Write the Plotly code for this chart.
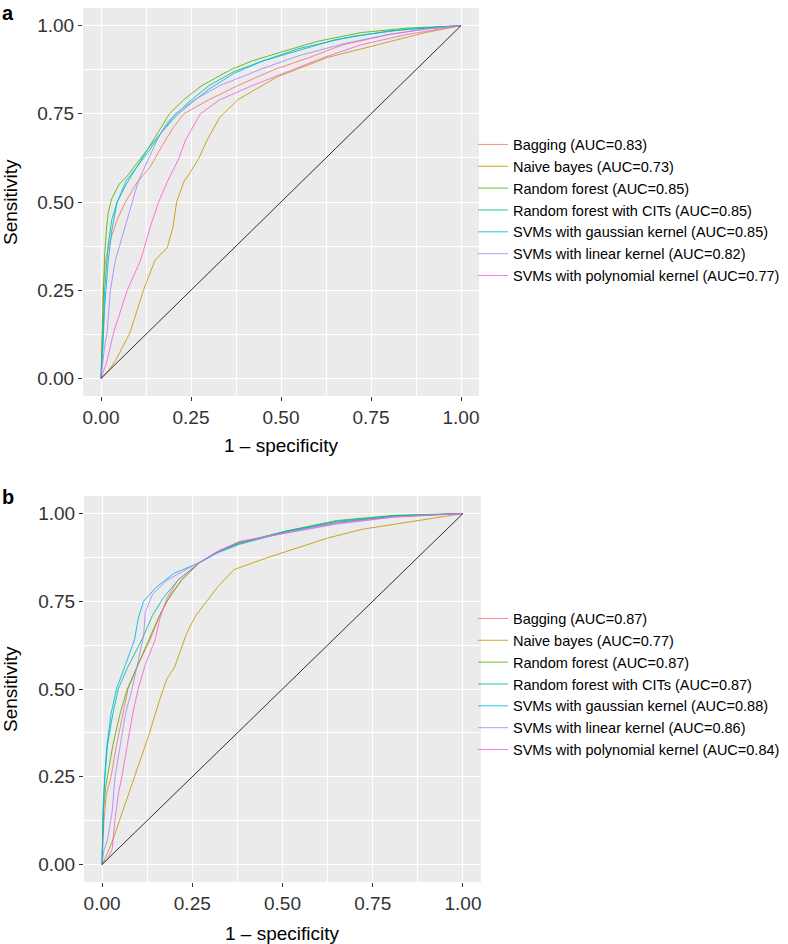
import plotly.graph_objects as go

# model names, legend order and colours (ggplot default hue palette)
models = ['Bagging', 'Naive bayes', 'Random forest', 'Random forest with CITs',
          'SVMs with gaussian kernel', 'SVMs with linear kernel', 'SVMs with polynomial kernel']
colors = ['#F8766D', '#C49A00', '#53B400', '#00C094', '#00B6EB', '#A58AFF', '#FB61D7']
auc_a = [0.83, 0.73, 0.85, 0.85, 0.85, 0.82, 0.77]
auc_b = [0.87, 0.77, 0.87, 0.87, 0.88, 0.86, 0.84]
ticks = [0.0, 0.25, 0.5, 0.75, 1.0]

# ---- panel a : ROC curves (1 - specificity, sensitivity) ----
a_bag_x = [0, 0.003, 0.006, 0.012, 0.025, 0.045, 0.068, 0.1, 0.137, 0.17, 0.2, 0.23, 0.3, 0.38, 0.48, 0.58, 0.67, 0.8, 0.9, 1]
a_bag_y = [0, 0.15, 0.25, 0.33, 0.39, 0.45, 0.5, 0.555, 0.6, 0.66, 0.71, 0.75, 0.79, 0.83, 0.875, 0.91, 0.945, 0.975, 0.99, 1]
a_nb_x = [0, 0.02, 0.04, 0.08, 0.118, 0.15, 0.184, 0.2, 0.21, 0.23, 0.245, 0.27, 0.295, 0.33, 0.38, 0.49, 0.63, 0.78, 0.9, 1]
a_nb_y = [0, 0.02, 0.05, 0.128, 0.25, 0.335, 0.37, 0.43, 0.5, 0.557, 0.58, 0.62, 0.676, 0.74, 0.79, 0.855, 0.91, 0.95, 0.98, 1]
a_rf_x = [0, 0.005, 0.01, 0.015, 0.02, 0.03, 0.05, 0.07, 0.1, 0.13, 0.16, 0.19, 0.23, 0.28, 0.36, 0.42, 0.5, 0.6, 0.72, 0.85, 1]
a_rf_y = [0, 0.2, 0.35, 0.42, 0.47, 0.51, 0.55, 0.57, 0.61, 0.65, 0.7, 0.75, 0.79, 0.83, 0.875, 0.9, 0.925, 0.955, 0.98, 0.993, 1]
a_cit_x = [0, 0.005, 0.01, 0.02, 0.03, 0.045, 0.07, 0.1, 0.13, 0.17, 0.2, 0.24, 0.3, 0.37, 0.45, 0.55, 0.65, 0.8, 1]
a_cit_y = [0, 0.1, 0.25, 0.38, 0.45, 0.5, 0.55, 0.6, 0.64, 0.7, 0.74, 0.78, 0.83, 0.87, 0.9, 0.93, 0.96, 0.985, 1]
a_gau_x = [0, 0.005, 0.01, 0.02, 0.03, 0.045, 0.07, 0.1, 0.13, 0.17, 0.21, 0.25, 0.3, 0.37, 0.45, 0.55, 0.7, 0.85, 1]
a_gau_y = [0, 0.08, 0.2, 0.33, 0.42, 0.5, 0.56, 0.6, 0.65, 0.7, 0.745, 0.78, 0.82, 0.865, 0.9, 0.935, 0.97, 0.99, 1]
a_lin_x = [0, 0.005, 0.01, 0.017, 0.026, 0.04, 0.068, 0.087, 0.104, 0.13, 0.156, 0.18, 0.206, 0.26, 0.33, 0.44, 0.55, 0.68, 0.8, 0.9, 1]
a_lin_y = [0, 0.05, 0.09, 0.13, 0.25, 0.335, 0.43, 0.5, 0.56, 0.62, 0.676, 0.72, 0.75, 0.79, 0.83, 0.875, 0.915, 0.95, 0.975, 0.99, 1]
a_pol_x = [0, 0.01, 0.017, 0.035, 0.05, 0.073, 0.11, 0.137, 0.16, 0.184, 0.215, 0.235, 0.276, 0.33, 0.42, 0.535, 0.62, 0.72, 0.85, 1]
a_pol_y = [0, 0.03, 0.05, 0.13, 0.18, 0.25, 0.335, 0.43, 0.5, 0.557, 0.62, 0.676, 0.75, 0.79, 0.83, 0.875, 0.91, 0.945, 0.975, 1]

# ---- panel b ----
b_bag_x = [0, 0.005, 0.012, 0.025, 0.04, 0.055, 0.072, 0.1, 0.133, 0.16, 0.19, 0.22, 0.27, 0.32, 0.38, 0.51, 0.65, 0.81, 1]
b_bag_y = [0, 0.12, 0.2, 0.25, 0.34, 0.42, 0.5, 0.57, 0.64, 0.71, 0.77, 0.81, 0.86, 0.89, 0.915, 0.948, 0.975, 0.992, 1]
b_nb_x = [0, 0.01, 0.03, 0.06, 0.092, 0.13, 0.16, 0.18, 0.2, 0.235, 0.26, 0.29, 0.32, 0.365, 0.46, 0.55, 0.625, 0.72, 0.81, 0.9, 1]
b_nb_y = [0, 0.02, 0.07, 0.16, 0.25, 0.37, 0.47, 0.53, 0.56, 0.66, 0.71, 0.75, 0.79, 0.84, 0.875, 0.905, 0.93, 0.955, 0.97, 0.985, 1]
b_rf_x = [0, 0.004, 0.01, 0.015, 0.03, 0.05, 0.07, 0.1, 0.13, 0.155, 0.18, 0.22, 0.27, 0.32, 0.38, 0.51, 0.65, 0.81, 1]
b_rf_y = [0, 0.15, 0.22, 0.25, 0.34, 0.43, 0.5, 0.57, 0.64, 0.7, 0.75, 0.81, 0.86, 0.89, 0.915, 0.95, 0.98, 0.995, 1]
b_cit_x = [0, 0.003, 0.008, 0.015, 0.03, 0.045, 0.07, 0.11, 0.14, 0.17, 0.21, 0.27, 0.32, 0.38, 0.51, 0.65, 0.81, 1]
b_cit_y = [0, 0.15, 0.25, 0.34, 0.43, 0.5, 0.56, 0.64, 0.71, 0.76, 0.81, 0.86, 0.89, 0.917, 0.95, 0.978, 0.994, 1]
b_gau_x = [0, 0.003, 0.008, 0.013, 0.025, 0.04, 0.065, 0.09, 0.1, 0.115, 0.15, 0.2, 0.27, 0.32, 0.38, 0.51, 0.65, 0.81, 1]
b_gau_y = [0, 0.17, 0.26, 0.335, 0.43, 0.5, 0.57, 0.64, 0.7, 0.75, 0.79, 0.83, 0.86, 0.888, 0.912, 0.948, 0.975, 0.992, 1]
b_lin_x = [0, 0.005, 0.015, 0.028, 0.036, 0.05, 0.065, 0.083, 0.1, 0.115, 0.12, 0.14, 0.18, 0.27, 0.32, 0.38, 0.51, 0.65, 0.81, 1]
b_lin_y = [0, 0.04, 0.07, 0.15, 0.25, 0.34, 0.43, 0.5, 0.58, 0.65, 0.72, 0.77, 0.81, 0.86, 0.89, 0.92, 0.945, 0.97, 0.99, 1]
b_pol_x = [0, 0.015, 0.028, 0.035, 0.045, 0.055, 0.07, 0.085, 0.1, 0.12, 0.147, 0.16, 0.18, 0.21, 0.27, 0.32, 0.38, 0.51, 0.65, 0.81, 1]
b_pol_y = [0, 0.015, 0.043, 0.12, 0.2, 0.25, 0.34, 0.43, 0.5, 0.57, 0.64, 0.7, 0.76, 0.81, 0.86, 0.893, 0.92, 0.945, 0.972, 0.99, 1]

diag_x = [0, 1]
diag_y = [0, 1]

panel_a = [(a_bag_x, a_bag_y), (a_nb_x, a_nb_y), (a_rf_x, a_rf_y), (a_cit_x, a_cit_y),
           (a_gau_x, a_gau_y), (a_lin_x, a_lin_y), (a_pol_x, a_pol_y)]
panel_b = [(b_bag_x, b_bag_y), (b_nb_x, b_nb_y), (b_rf_x, b_rf_y), (b_cit_x, b_cit_y),
           (b_gau_x, b_gau_y), (b_lin_x, b_lin_y), (b_pol_x, b_pol_y)]

FONT = 'Liberation Sans, Arial, Helvetica, sans-serif'
W, H = 788, 944

fig = go.Figure()

for i, (xs, ys) in enumerate(panel_a):
    fig.add_trace(go.Scatter(x=xs, y=ys, mode='lines', xaxis='x', yaxis='y',
                             name=f'{models[i]} (AUC={auc_a[i]:.2f})', legend='legend',
                             line=dict(color=colors[i], width=1), opacity=0.85))
fig.add_trace(go.Scatter(x=diag_x, y=diag_y, mode='lines', xaxis='x', yaxis='y',
                         line=dict(color='black', width=0.8), showlegend=False))

for i, (xs, ys) in enumerate(panel_b):
    fig.add_trace(go.Scatter(x=xs, y=ys, mode='lines', xaxis='x2', yaxis='y2',
                             name=f'{models[i]} (AUC={auc_b[i]:.2f})', legend='legend2',
                             line=dict(color=colors[i], width=1), opacity=0.85))
fig.add_trace(go.Scatter(x=diag_x, y=diag_y, mode='lines', xaxis='x2', yaxis='y2',
                         line=dict(color='black', width=0.8), showlegend=False))


def ax(domain, anchor):
    return dict(domain=domain, anchor=anchor, range=[-0.05, 1.05], tickvals=ticks,
                tickformat='.2f', showgrid=True, gridcolor='white', gridwidth=1.1,
                zeroline=False, showline=False, ticks='outside', ticklen=4,
                tickcolor='#333333', tickwidth=1,
                tickfont=dict(family=FONT, size=19, color='#333333'),
                minor=dict(tickvals=[0.125, 0.375, 0.625, 0.875], showgrid=True,
                           gridcolor='white', gridwidth=0.5, ticks=''),
                automargin=False)


# panel pixel boxes -> paper fractions
fig.update_layout(
    width=W, height=H,
    margin=dict(l=0, r=0, t=0, b=0),
    paper_bgcolor='white', plot_bgcolor='#EBEBEB',
    font=dict(family=FONT, color='black'),
    xaxis=ax([83 / W, 479 / W], 'y'),
    yaxis=ax([1 - 396 / H, 1 - 8 / H], 'x'),
    xaxis2=ax([84 / W, 481 / W], 'y2'),
    yaxis2=ax([1 - 882 / H, 1 - 496 / H], 'x2'),
    legend=dict(x=473 / W, y=1 - 210 / H, xanchor='left', yanchor='middle',
                font=dict(family=FONT, size=14.5, color='black'), bgcolor='rgba(0,0,0,0)',
                itemwidth=30, tracegroupgap=0),
    legend2=dict(x=473 / W, y=1 - 684 / H, xanchor='left', yanchor='middle',
                 font=dict(family=FONT, size=14.5, color='black'), bgcolor='rgba(0,0,0,0)',
                 itemwidth=30, tracegroupgap=0),
    showlegend=True,
)

# axis titles and panel letters
ann = [
    dict(text='<b>a</b>', x=0, y=1, xanchor='left', yanchor='top', font=dict(size=20, family=FONT)),
    dict(text='<b>b</b>', x=0, y=1 - 497 / H, xanchor='left', yanchor='middle', font=dict(size=20, family=FONT)),
    dict(text='1 – specificity', x=281 / W, y=1 - 445 / H, xanchor='center', yanchor='middle', font=dict(size=19, family=FONT)),
    dict(text='1 – specificity', x=282 / W, y=1 - 933 / H, xanchor='center', yanchor='middle', font=dict(size=19, family=FONT)),
    dict(text='Sensitivity', x=10 / W, y=1 - 202 / H, textangle=-90, xanchor='center', yanchor='middle', font=dict(size=19, family=FONT)),
    dict(text='Sensitivity', x=10 / W, y=1 - 689 / H, textangle=-90, xanchor='center', yanchor='middle', font=dict(size=19, family=FONT)),
]
for a in ann:
    a.update(xref='paper', yref='paper', showarrow=False)
fig.update_layout(annotations=ann)

# drop the browser's default 8px body margin so the figure sits at the page corner
fig.write_html('out.html', config={'displayModeBar': False},
               post_script="document.body.style.margin='0px';")
